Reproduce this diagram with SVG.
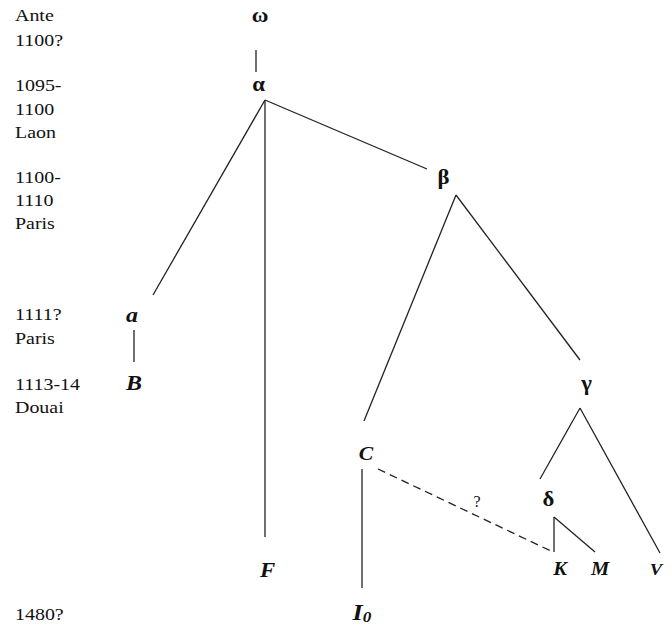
<svg xmlns="http://www.w3.org/2000/svg" width="672" height="628" viewBox="0 0 672 628">
<style>
.lbl{font-family:"Liberation Serif","Times New Roman",serif;font-size:17.5px;fill:#111}
.gr{font-family:"Liberation Serif","Times New Roman",serif;font-size:20px;font-weight:bold;fill:#111;text-anchor:middle}
.ms{font-family:"Liberation Serif","Times New Roman",serif;font-weight:bold;font-style:italic;fill:#111;text-anchor:middle}
.q{font-family:"Liberation Serif","Times New Roman",serif;font-size:16px;fill:#111;text-anchor:middle}
.ln{stroke:#222;stroke-width:1.3;fill:none}
.dash{stroke:#222;stroke-width:1.3;fill:none;stroke-dasharray:8 5}
</style>
<rect width="672" height="628" fill="#fff"/>
<g id="dates" transform="matrix(1.14 0 0 1 15 0)">
<text class="lbl" x="0" y="21.5">Ante</text>
<text class="lbl" x="0" y="46">1100?</text>
<text class="lbl" x="0" y="91.5">1095-</text>
<text class="lbl" x="0" y="115">1100</text>
<text class="lbl" x="0" y="138">Laon</text>
<text class="lbl" x="0" y="183">1100-</text>
<text class="lbl" x="0" y="206.5">1110</text>
<text class="lbl" x="0" y="229">Paris</text>
<text class="lbl" x="0" y="320">1111?</text>
<text class="lbl" x="0" y="344">Paris</text>
<text class="lbl" x="0" y="390">1113-14</text>
<text class="lbl" x="0" y="413">Douai</text>
<text class="lbl" x="0" y="620">1480?</text>
</g>
<g id="connectors">
<line class="ln" x1="256" y1="50" x2="256" y2="72"/>
<line class="ln" x1="265" y1="100" x2="153" y2="295"/>
<line class="ln" x1="265" y1="100" x2="265" y2="537"/>
<line class="ln" x1="265" y1="100" x2="427" y2="169"/>
<line class="ln" x1="134" y1="330" x2="134" y2="362"/>
<line class="ln" x1="456" y1="195" x2="364" y2="421"/>
<line class="ln" x1="456" y1="195" x2="580" y2="360"/>
<line class="ln" x1="580" y1="408" x2="540" y2="479"/>
<line class="ln" x1="580" y1="408" x2="660" y2="553"/>
<line class="ln" x1="554" y1="552" x2="554" y2="517"/>
<line class="ln" x1="554" y1="517" x2="595" y2="552"/>
<line class="dash" x1="378" y1="469" x2="553" y2="552"/>
<line class="ln" x1="362" y1="469" x2="362" y2="588"/>
<text class="q" x="477" y="507">?</text>
</g>
<g id="n-omega"><text class="gr" transform="matrix(1.14 0 0 1 260 22)">ω</text></g>
<g id="n-alpha"><text class="gr" transform="matrix(1.14 0 0 1 258.5 91)">α</text></g>
<g id="n-beta"><text class="gr" transform="matrix(1.14 0 0 1 443.5 184)">β</text></g>
<g id="n-gamma"><text class="gr" transform="matrix(1.14 0 0 1 586.5 390)">γ</text></g>
<g id="n-delta"><text class="gr" transform="matrix(1.14 0 0 1 548.5 506)">δ</text></g>
<g id="n-a"><text class="ms" font-size="21" transform="matrix(1.14 0 0 1 132 322)">a</text></g>
<g id="n-B"><text class="ms" font-size="21" transform="matrix(1.14 0 0 1 134 390)">B</text></g>
<g id="n-C"><text class="ms" font-size="19" transform="matrix(1.14 0 0 1 366 460)">C</text></g>
<g id="n-F"><text class="ms" font-size="20" transform="matrix(1.14 0 0 1 267.5 577)">F</text></g>
<g id="n-K"><text class="ms" font-size="18" transform="matrix(1.14 0 0 1 560 575)">K</text></g>
<g id="n-M"><text class="ms" font-size="18" transform="matrix(1.14 0 0 1 600 575)">M</text></g>
<g id="n-V"><text class="ms" font-size="17" text-anchor="start" transform="matrix(1.1 0 0 1 656 575)">V</text></g>
<g id="n-I0"><text class="ms" font-size="23" text-anchor="start" transform="matrix(1.14 0 0 1 362 620)">I<tspan font-size="15" dy="2">0</tspan></text></g>
</svg>
